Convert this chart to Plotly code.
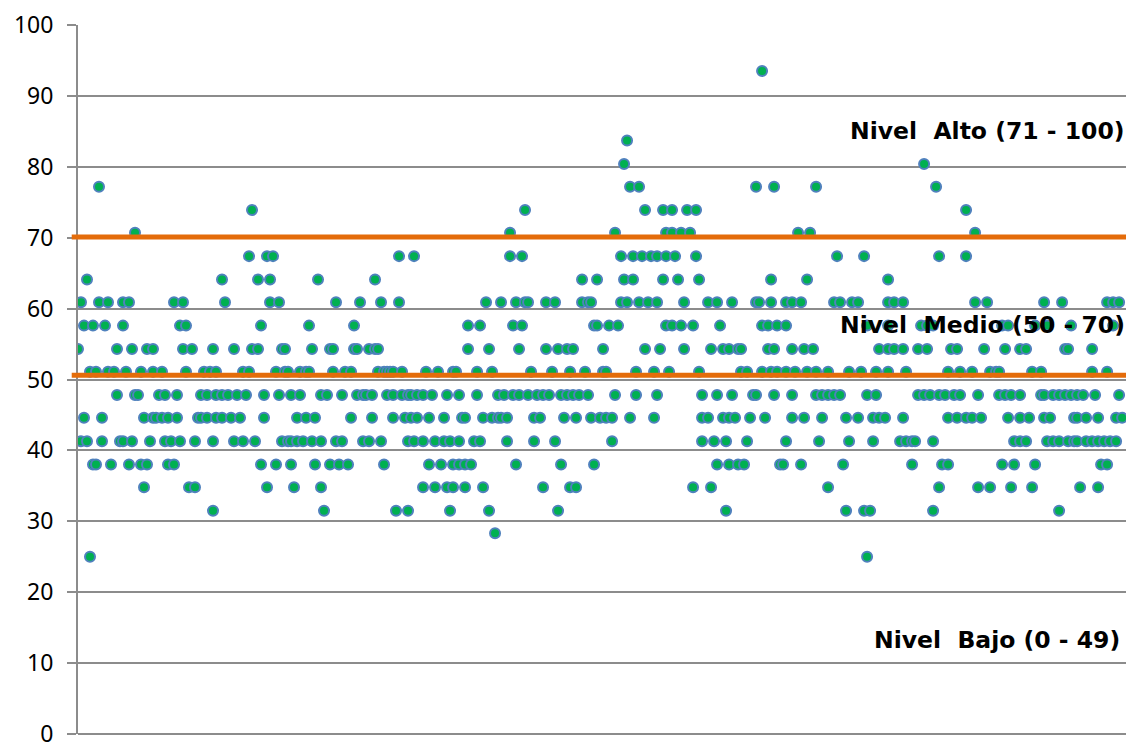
import plotly.graph_objects as go

# Score levels (y values) and student positions (x) at each level
s93_5 = [230]
s83_7 = [185]
s80_4 = [184, 284]
s77_2 = [9, 186, 189, 228, 234, 248, 288]
s73_9 = [60, 151, 191, 197, 200, 205, 208, 298]
s70_7 = [21, 146, 181, 198, 200, 203, 206, 242, 246, 301]
s67_4 = [59, 65, 67, 109, 114, 146, 150, 183, 187, 190, 193, 195, 198, 201, 208,
         255, 264, 289, 298]
s64_1 = [5, 50, 62, 66, 82, 101, 170, 175, 184, 187, 197, 202, 209, 233, 245, 272]
s60_9 = [3, 9, 12, 17, 19, 34, 37, 51, 66, 69, 88, 96, 103, 109, 138, 143, 148, 151,
         152, 158, 161, 170, 172, 173, 183, 185, 189, 192, 195, 204, 212, 215, 220,
         228, 229, 233, 238, 240, 243, 254, 256, 260, 262, 272, 274, 277, 301, 305,
         324, 330, 345, 347, 349]
s57_6 = [4, 7, 11, 17, 36, 38, 63, 79, 94, 132, 136, 147, 150, 174, 175, 179, 182,
         198, 200, 203, 207, 216, 230, 232, 235, 238, 265, 272, 283, 285, 287, 310,
         312, 321, 325, 333, 347]
s54_3 = [2, 15, 20, 25, 27, 37, 40, 47, 54, 60, 62, 70, 71, 80, 86, 87, 94, 95, 99,
         101, 102, 132, 139, 149, 158, 162, 165, 167, 177, 191, 196, 204, 213, 217,
         219, 222, 223, 232, 234, 240, 244, 247, 269, 272, 274, 277, 282, 285, 293,
         295, 304, 311, 316, 318, 331, 332, 340]
s51_1 = [6, 8, 12, 14, 18, 23, 27, 30, 38, 44, 46, 48, 57, 59, 68, 71, 72, 76, 78, 79,
         87, 91, 93, 102, 104, 105, 106, 107, 110, 118, 122, 127, 128, 135, 140, 153,
         160, 166, 171, 177, 178, 188, 194, 199, 209, 223, 225, 230, 233, 235, 238,
         241, 245, 248, 252, 259, 263, 268, 272, 278, 292, 296, 300, 306, 308, 309,
         320, 323, 340, 345]
s47_8 = [15, 21, 22, 29, 31, 35, 43, 45, 48, 50, 52, 55, 58, 64, 69, 73, 76, 83, 85,
         90, 95, 97, 98, 100, 105, 107, 110, 112, 113, 115, 117, 120, 125, 129, 135,
         142, 144, 147, 149, 152, 155, 157, 159, 163, 165, 167, 169, 172, 181, 188,
         195, 210, 215, 220, 227, 228, 234, 240, 248, 250, 252, 254, 256, 265, 268,
         282, 284, 286, 289, 291, 294, 296, 302, 309, 311, 313, 316, 323, 324, 327,
         329, 331, 333, 335, 337, 341, 349]
s44_6 = [4, 10, 24, 27, 28, 30, 32, 35, 42, 43, 45, 48, 50, 53, 56, 64, 75, 78, 81,
         93, 100, 107, 111, 113, 115, 119, 124, 130, 131, 137, 140, 142, 143, 145,
         154, 156, 164, 168, 173, 176, 178, 180, 186, 194, 210, 212, 217, 219, 221,
         226, 231, 240, 244, 250, 258, 262, 267, 269, 271, 277, 292, 295, 298, 300,
         303, 312, 316, 319, 324, 326, 334, 335, 338, 342, 348, 350]
s41_3 = [3, 5, 10, 16, 17, 20, 26, 31, 33, 36, 41, 47, 54, 57, 61, 70, 72, 73, 75, 77,
         80, 83, 88, 90, 97, 99, 103, 112, 114, 117, 121, 124, 126, 129, 134, 136,
         145, 154, 161, 180, 210, 214, 218, 225, 238, 249, 259, 267, 276, 278, 280,
         281, 287, 314, 316, 318, 325, 327, 329, 332, 334, 335, 338, 340, 342, 344,
         346, 348]
s38_0 = [7, 8, 13, 19, 23, 25, 32, 34, 63, 68, 73, 81, 86, 89, 92, 104, 119, 123, 127,
         129, 131, 133, 148, 163, 174, 215, 219, 222, 224, 236, 237, 243, 257, 280,
         290, 292, 310, 314, 321, 343, 345]
s34_8 = [24, 39, 41, 65, 74, 83, 117, 121, 125, 127, 131, 137, 157, 166, 168, 207,
         213, 252, 289, 302, 306, 313, 320, 336, 342]
s31_5 = [47, 84, 108, 112, 126, 139, 162, 218, 258, 264, 266, 287, 329]
s28_3 = [141]
s25_0 = [6, 265]

score_levels = [93.5, 83.7, 80.4, 77.2, 73.9, 70.7, 67.4, 64.1, 60.9, 57.6, 54.3,
                51.1, 47.8, 44.6, 41.3, 38.0, 34.8, 31.5, 28.3, 25.0]
students_by_level = [s93_5, s83_7, s80_4, s77_2, s73_9, s70_7, s67_4, s64_1, s60_9,
                     s57_6, s54_3, s51_1, s47_8, s44_6, s41_3, s38_0, s34_8, s31_5,
                     s28_3, s25_0]

# Level boundaries (orange lines)
thresholds = [70.1, 50.6]

y_ticks = [0, 10, 20, 30, 40, 50, 60, 70, 80, 90, 100]

level_labels = ["Nivel\u00a0 Alto (71 - 100)",
                "Nivel\u00a0 Medio (50 - 70)",
                "Nivel\u00a0 Bajo (0 - 49)"]
label_y = [85.0, 57.7, 13.3]
label_x = [1.001, 1.001, 0.996]

xs, ys = [], []
for lvl, studs in zip(score_levels, students_by_level):
    for s in studs:
        xs.append(s)
        ys.append(lvl)
order = sorted(range(len(xs)), key=lambda i: xs[i])
xs = [xs[i] for i in order]
ys = [ys[i] for i in order]

fig = go.Figure()
fig.add_trace(go.Scatter(
    x=xs, y=ys, mode="markers",
    marker=dict(size=10, color="#00B050", line=dict(color="#4F81BD", width=2)),
    showlegend=False, hoverinfo="x+y",
))

for t in thresholds:
    fig.add_shape(type="line", xref="paper", x0=-0.006, x1=1.0, yref="y", y0=t, y1=t,
                  line=dict(color="#E46C0A", width=5), layer="above")

for txt, yy, xx in zip(level_labels, label_y, label_x):
    fig.add_annotation(text=txt, xref="paper", x=xx, xanchor="right",
                       yref="y", y=yy, yanchor="middle", showarrow=False,
                       font=dict(family="DejaVu Sans", size=23.5, color="#000000",
                                 weight="bold"))

fig.update_layout(
    width=1138, height=743,
    margin=dict(l=70, r=20, t=17, b=17, autoexpand=False),
    paper_bgcolor="white", plot_bgcolor="white",
)
fig.update_xaxes(range=[2, 351.3], showgrid=False, zeroline=False, showticklabels=False,
                 showline=False, ticks="")
fig.update_yaxes(range=[0, 100], tickvals=y_ticks, showgrid=True, gridcolor="#8C8C8C",
                 gridwidth=2, zeroline=True, zerolinecolor="#8C8C8C", zerolinewidth=2,
                 showline=True, linecolor="#8C8C8C", linewidth=2,
                 ticks="outside", ticklen=9, tickwidth=2, tickcolor="#8C8C8C",
                 ticklabelstandoff=9, automargin=False, ticklabeloverflow="allow",
                 tickfont=dict(family="Noto Sans", size=23, color="#000000"))

fig.write_html("out.html")
